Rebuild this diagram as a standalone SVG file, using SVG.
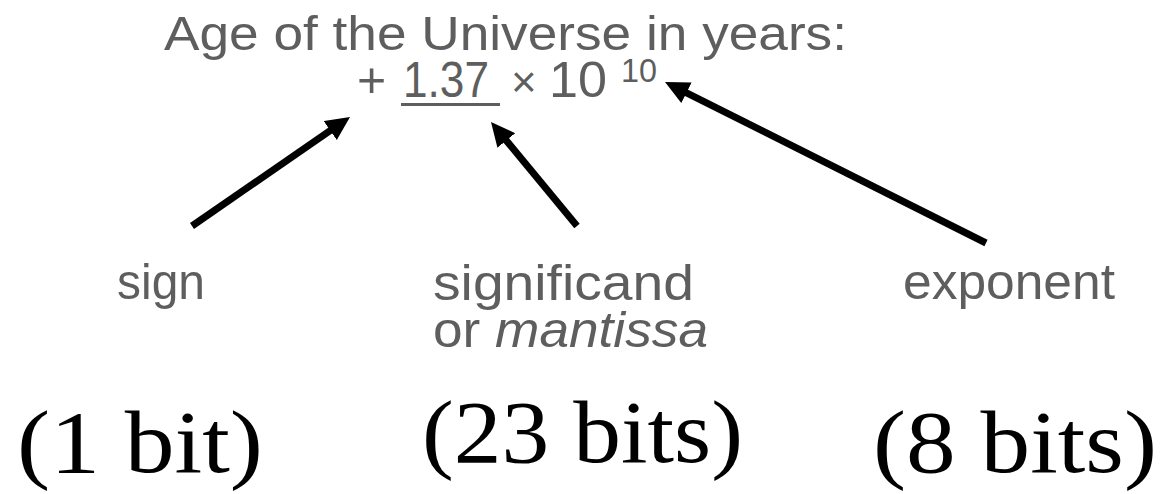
<svg xmlns="http://www.w3.org/2000/svg" width="1163" height="494" viewBox="0 0 1163 494">
  <style>
    .t { font-family: "Liberation Sans", "DejaVu Sans", sans-serif; fill: #5e5e5e; }
    .m { font-family: "Liberation Serif", "DejaVu Serif", serif; fill: #000; }
    .arr { stroke: #000; stroke-width: 7; fill: none; marker-end: url(#head); }
  </style>
  <defs>
    <marker id="head" markerUnits="userSpaceOnUse" markerWidth="26" markerHeight="24" refX="6" refY="11.5" orient="auto" viewBox="0 0 26 24">
      <path d="M0,0 L24,11.5 L0,23 Z" fill="#000"/>
    </marker>
  </defs>
  <rect width="1163" height="494" fill="#fff"/>

  <g id="title">
    <text class="t" x="164" y="50" font-size="48" textLength="683" lengthAdjust="spacingAndGlyphs">Age of the Universe in years:</text>
    <text class="t" x="357" y="97" font-size="50">+</text>
    <text class="t" x="403" y="97" font-size="50" textLength="86" lengthAdjust="spacingAndGlyphs">1.37</text>
    <line x1="401" y1="104.5" x2="500" y2="104.5" stroke="#5e5e5e" stroke-width="3"/>
    <text class="t" x="511" y="97" font-size="44">×</text>
    <text class="t" x="549" y="97" font-size="50" textLength="58" lengthAdjust="spacingAndGlyphs">10</text>
    <text class="t" x="621" y="82" font-size="33" textLength="36" lengthAdjust="spacingAndGlyphs">10</text>
  </g>

  <g id="connectors">
    <line class="arr" x1="192" y1="226" x2="335.2" y2="127.2"/>
    <line class="arr" x1="577" y1="226" x2="502.5" y2="135.9"/>
    <line class="arr" x1="986" y1="243" x2="681.1" y2="90.1"/>
  </g>

  <g id="sign">
    <text class="t" x="117" y="299" font-size="50" textLength="88" lengthAdjust="spacingAndGlyphs">sign</text>
  </g>
  <g id="significand">
    <text class="t" x="433" y="300" font-size="50" textLength="261" lengthAdjust="spacingAndGlyphs">significand</text>
    <text class="t" x="433" y="347" font-size="50" textLength="275" lengthAdjust="spacingAndGlyphs">or <tspan font-style="italic">mantissa</tspan></text>
  </g>
  <g id="exponent">
    <text class="t" x="903" y="299" font-size="50" textLength="212" lengthAdjust="spacingAndGlyphs">exponent</text>
  </g>

  <g id="bits">
    <text class="m" x="17" y="472" font-size="88" textLength="246" lengthAdjust="spacingAndGlyphs">(1 bit)</text>
    <text class="m" x="422" y="462" font-size="88" textLength="321" lengthAdjust="spacingAndGlyphs">(23 bits)</text>
    <text class="m" x="873" y="472" font-size="88" textLength="284" lengthAdjust="spacingAndGlyphs">(8 bits)</text>
  </g>
</svg>
